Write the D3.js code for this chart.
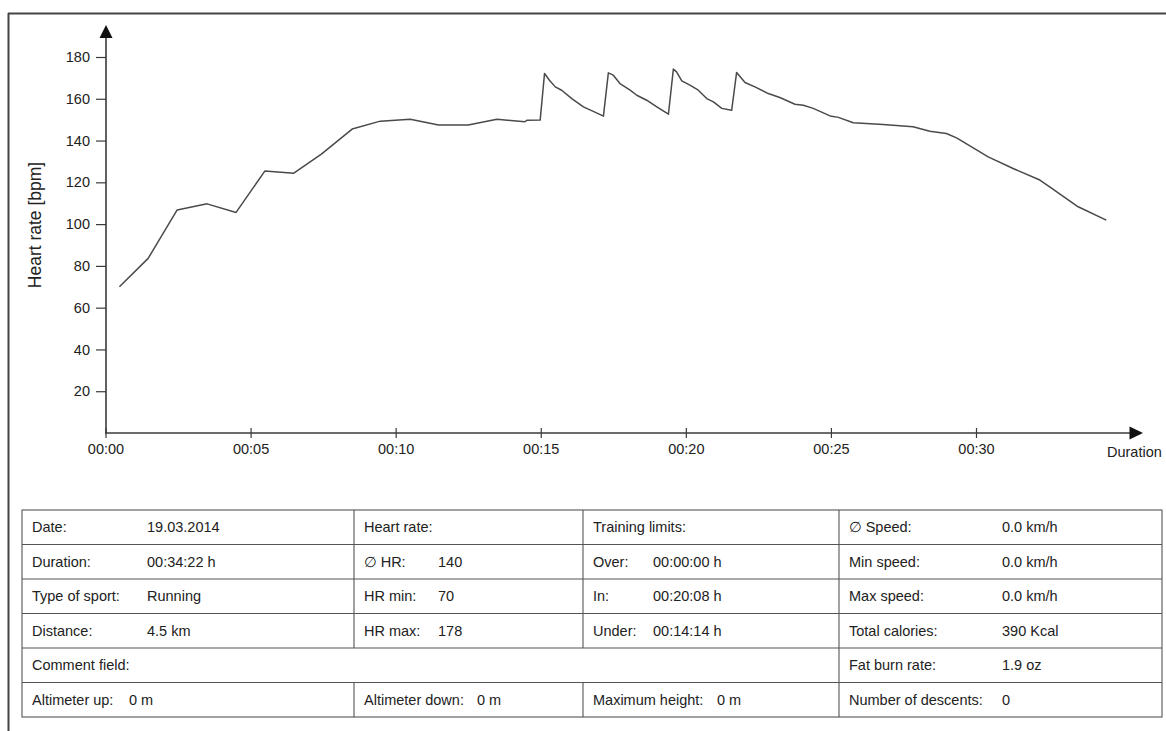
<!DOCTYPE html>
<html>
<head>
<meta charset="utf-8">
<script src="https://cdn.jsdelivr.net/npm/d3@7"></script>
<style>
  html, body { margin: 0; padding: 0; background: #fff; }
  svg { display: block; }
  text { font-family: "Liberation Sans", Arial, "DejaVu Sans", sans-serif; fill: #222; }
</style>
</head>
<body>
<svg id="chart" width="1166" height="731"></svg>
<script>
// ---- data ----
const minutes = [0.48, 1.47, 2.47, 3.5, 4.5, 5.49, 6.49, 7.44, 8.5, 9.47, 10.5, 11.48, 12.5, 13.49, 14.45, 14.52, 14.98,
  15.13, 15.3, 15.5, 15.72, 16.07, 16.47, 16.81, 17.16,
  17.33, 17.5, 17.73, 18.08, 18.31, 18.65, 19.0, 19.4,
  19.57, 19.68, 19.86, 20.14, 20.43, 20.72, 20.95, 21.24, 21.58,
  21.75, 22.04, 22.38, 22.84, 23.24, 23.76, 24.05, 24.39, 24.97, 25.26, 25.77, 26.8, 27.83, 28.41, 28.98, 29.33,
  30.42, 31.28, 32.2, 32.54, 33.52, 34.49];
const heartRate = [70, 83.6, 106.8, 109.7, 105.6, 125.4, 124.4, 133.5, 145.5, 149.3, 150.2, 147.4, 147.4, 150.2, 149.0, 149.7, 149.8,
  172.1, 168.9, 165.7, 164.1, 160.1, 156.1, 154.0, 151.7,
  172.4, 171.3, 167.3, 164.1, 161.7, 159.3, 156.1, 152.6,
  174.2, 172.9, 168.6, 166.5, 164.1, 160.1, 158.5, 155.4, 154.5,
  172.6, 167.8, 165.7, 162.5, 160.6, 157.4, 156.9, 155.4, 151.8, 151.1, 148.5, 147.7, 146.6, 144.5, 143.4, 141.3,
  132.2, 126.6, 121.1, 117.8, 108.3, 101.9];
const xTickMinutes = [0, 5, 10, 15, 20, 25, 30];
const xTickLabels = ["00:00", "00:05", "00:10", "00:15", "00:20", "00:25", "00:30"];
const yTicks = [20, 40, 60, 80, 100, 120, 140, 160, 180];
const yLabel = "Heart rate [bpm]";
const xLabel = "Duration";

// summary table
const tableCol0 = [["Date:", "19.03.2014"], ["Duration:", "00:34:22 h"], ["Type of sport:", "Running"], ["Distance:", "4.5 km"]];
const tableCol1 = [["Heart rate:", ""], ["\u2205 HR:", "140"], ["HR min:", "70"], ["HR max:", "178"]];
const tableCol2 = [["Training limits:", ""], ["Over:", "00:00:00 h"], ["In:", "00:20:08 h"], ["Under:", "00:14:14 h"]];
const tableCol3 = [["\u2205 Speed:", "0.0 km/h"], ["Min speed:", "0.0 km/h"], ["Max speed:", "0.0 km/h"], ["Total calories:", "390 Kcal"], ["Fat burn rate:", "1.9 oz"]];
const commentLabel = "Comment field:";
const bottomRow = [["Altimeter up:", "0 m"], ["Altimeter down:", "0 m"], ["Maximum height:", "0 m"], ["Number of descents:", "0"]];

// ---- drawing ----
const svg = d3.select("#chart");
const ink = "#3a3a3a";

// outer scan frame (top + left)
svg.append("line").attr("x1", 8).attr("y1", 13.5).attr("x2", 1166).attr("y2", 13.5)
  .attr("stroke", "#444").attr("stroke-width", 2);
svg.append("line").attr("x1", 8.5).attr("y1", 13).attr("x2", 8.5).attr("y2", 731)
  .attr("stroke", "#444").attr("stroke-width", 2);

const x = d3.scaleLinear().domain([0, 30]).range([105.5, 976]);
const y = d3.scaleLinear().domain([0, 180]).range([433, 57]);

// y axis
const yAxis = svg.append("g").attr("transform", "translate(106,0)")
  .call(d3.axisLeft(y).tickValues(yTicks).tickSize(10).tickPadding(6));
yAxis.select(".domain").remove();
yAxis.selectAll(".tick line").attr("stroke", ink).attr("stroke-width", 1.2);
yAxis.selectAll(".tick text").attr("font-size", 14.5).attr("fill", "#222")
  .style("font-family", "'Liberation Sans', Arial, sans-serif");

// x axis
const xAxis = svg.append("g").attr("transform", "translate(0,433)")
  .call(d3.axisBottom(x).tickValues(xTickMinutes).tickFormat((d, i) => xTickLabels[i]).tickSize(5).tickPadding(6));
xAxis.select(".domain").remove();
xAxis.selectAll(".tick line").attr("y1", -5).attr("y2", 5).attr("stroke", ink).attr("stroke-width", 1.2);
xAxis.selectAll(".tick text").attr("font-size", 14.5).attr("fill", "#222")
  .style("font-family", "'Liberation Sans', Arial, sans-serif");

// axis lines with arrows
svg.append("line").attr("x1", 106).attr("y1", y(0)).attr("x2", 106).attr("y2", 36)
  .attr("stroke", ink).attr("stroke-width", 1.6);
svg.append("path").attr("d", "M106,25 L99.5,38 L112.5,38 Z").attr("fill", "#111");
svg.append("line").attr("x1", 105).attr("y1", 433).attr("x2", 1132).attr("y2", 433)
  .attr("stroke", ink).attr("stroke-width", 1.6);
svg.append("path").attr("d", "M1143,433 L1129.5,426.5 L1129.5,439.5 Z").attr("fill", "#111");

// axis labels
svg.append("text").attr("x", 1107).attr("y", 457).attr("font-size", 14.5).text(xLabel);
svg.append("text").attr("transform", "translate(41,225) rotate(-90)")
  .attr("text-anchor", "middle").attr("font-size", 17.5).text(yLabel);

// heart-rate line
const pts = minutes.map((m, i) => [m, heartRate[i]]);
svg.append("path").datum(pts)
  .attr("fill", "none").attr("stroke", "#4a4a4a").attr("stroke-width", 1.5)
  .attr("stroke-linejoin", "round")
  .attr("d", d3.line().x(d => x(d[0])).y(d => y(d[1])));

// ---- table ----
const tLeft = 22, tRight = 1162, tTop = 510, rowH = 34.5;
const colX = [22, 354, 583, 839];
const tb = svg.append("g");
const lineAttr = sel => sel.attr("stroke", "#555").attr("stroke-width", 1.1);
// outer
lineAttr(tb.append("rect").attr("x", tLeft).attr("y", tTop).attr("width", tRight - tLeft).attr("height", rowH * 6).attr("fill", "none"));
// horizontal lines
for (let r = 1; r < 6; r++) {
  lineAttr(tb.append("line").attr("x1", tLeft).attr("x2", tRight).attr("y1", tTop + r * rowH).attr("y2", tTop + r * rowH));
}
// vertical lines
[1, 2].forEach(c => {
  lineAttr(tb.append("line").attr("x1", colX[c]).attr("x2", colX[c]).attr("y1", tTop).attr("y2", tTop + 4 * rowH));
  lineAttr(tb.append("line").attr("x1", colX[c]).attr("x2", colX[c]).attr("y1", tTop + 5 * rowH).attr("y2", tTop + 6 * rowH));
});
lineAttr(tb.append("line").attr("x1", colX[3]).attr("x2", colX[3]).attr("y1", tTop).attr("y2", tTop + 6 * rowH));

const fs = 14.5;
const baseY = r => tTop + r * rowH + rowH / 2 + 5;
function cellText(xp, r, s) {
  tb.append("text").attr("x", xp).attr("y", baseY(r)).attr("font-size", fs).text(s);
}
tableCol0.forEach((d, r) => { cellText(32, r, d[0]); cellText(147, r, d[1]); });
tableCol1.forEach((d, r) => { cellText(364, r, d[0]); if (d[1]) cellText(438, r, d[1]); });
tableCol2.forEach((d, r) => { cellText(593, r, d[0]); if (d[1]) cellText(653, r, d[1]); });
tableCol3.forEach((d, r) => { cellText(849, r, d[0]); cellText(1002, r, d[1]); });
cellText(32, 4, commentLabel);
const bottomValX = [129, 477, 717, 1002];
const bottomLblX = [32, 364, 593, 849];
bottomRow.forEach((d, c) => { cellText(bottomLblX[c], 5, d[0]); cellText(bottomValX[c], 5, d[1]); });
</script>
</body>
</html>
